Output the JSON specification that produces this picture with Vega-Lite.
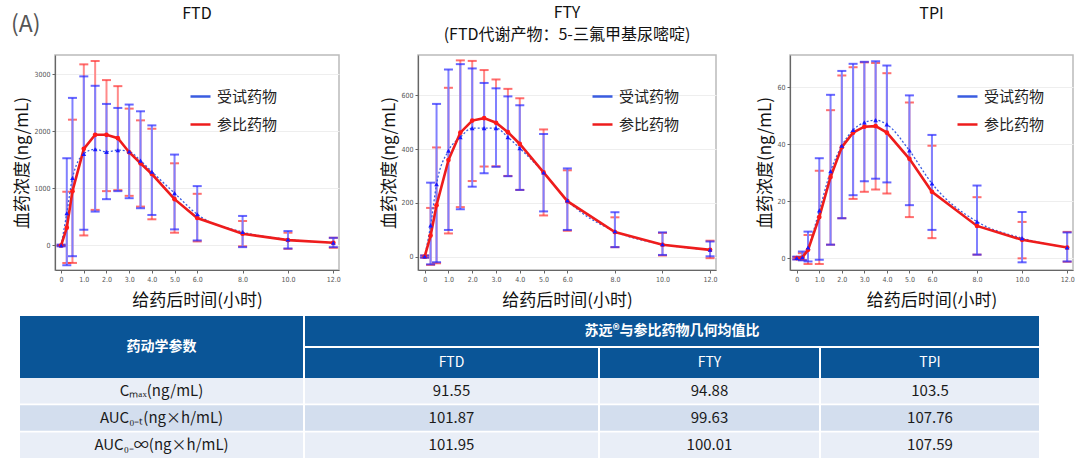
{
  "$schema": "https://vega.github.io/schema/vega-lite/v6.json",
  "padding": {"left": 11, "top": 4, "right": 0, "bottom": 0},
  "autosize": {"type": "pad"},
  "title": {"text": "(A)", "anchor": "start", "frame": "bounds", "fontSize": 23, "fontWeight": "normal", "color": "#555555", "font": "Noto Sans CJK SC", "offset": 0, "dy": 33, "dx": -1},
  "datasets": {
    "pk": [
      {"p": "FTD", "s": "参比药物", "t": 0, "m": 0, "lo": -10, "hi": 10},
      {"p": "FTD", "s": "参比药物", "t": 0.25, "m": 312, "lo": -306, "hi": 941},
      {"p": "FTD", "s": "参比药物", "t": 0.5, "m": 953, "lo": -306, "hi": 2206},
      {"p": "FTD", "s": "参比药物", "t": 1, "m": 1694, "lo": 176, "hi": 3176},
      {"p": "FTD", "s": "参比药物", "t": 1.5, "m": 1941, "lo": 624, "hi": 3235},
      {"p": "FTD", "s": "参比药物", "t": 2, "m": 1941, "lo": 953, "hi": 2900},
      {"p": "FTD", "s": "参比药物", "t": 2.5, "m": 1882, "lo": 970, "hi": 2794},
      {"p": "FTD", "s": "参比药物", "t": 3, "m": 1635, "lo": 870, "hi": 2400},
      {"p": "FTD", "s": "参比药物", "t": 3.5, "m": 1441, "lo": 682, "hi": 2194},
      {"p": "FTD", "s": "参比药物", "t": 4, "m": 1253, "lo": 459, "hi": 2047},
      {"p": "FTD", "s": "参比药物", "t": 5, "m": 812, "lo": 224, "hi": 1441},
      {"p": "FTD", "s": "参比药物", "t": 6, "m": 482, "lo": 71, "hi": 906},
      {"p": "FTD", "s": "参比药物", "t": 8, "m": 206, "lo": -15, "hi": 429},
      {"p": "FTD", "s": "参比药物", "t": 10, "m": 94, "lo": -59, "hi": 224},
      {"p": "FTD", "s": "参比药物", "t": 12, "m": 47, "lo": -41, "hi": 135},
      {"p": "FTD", "s": "受试药物", "t": 0, "m": 0, "lo": -15, "hi": 15},
      {"p": "FTD", "s": "受试药物", "t": 0.25, "m": 565, "lo": -347, "hi": 1529},
      {"p": "FTD", "s": "受试药物", "t": 0.5, "m": 1182, "lo": -188, "hi": 2588},
      {"p": "FTD", "s": "受试药物", "t": 1, "m": 1606, "lo": 276, "hi": 2965},
      {"p": "FTD", "s": "受试药物", "t": 1.5, "m": 1688, "lo": 594, "hi": 2800},
      {"p": "FTD", "s": "受试药物", "t": 2, "m": 1641, "lo": 812, "hi": 2482},
      {"p": "FTD", "s": "受试药物", "t": 2.5, "m": 1671, "lo": 953, "hi": 2412},
      {"p": "FTD", "s": "受试药物", "t": 3, "m": 1647, "lo": 829, "hi": 2471},
      {"p": "FTD", "s": "受试药物", "t": 3.5, "m": 1488, "lo": 653, "hi": 2353},
      {"p": "FTD", "s": "受试药物", "t": 4, "m": 1294, "lo": 535, "hi": 2106},
      {"p": "FTD", "s": "受试药物", "t": 5, "m": 918, "lo": 282, "hi": 1594},
      {"p": "FTD", "s": "受试药物", "t": 6, "m": 547, "lo": 88, "hi": 1041},
      {"p": "FTD", "s": "受试药物", "t": 8, "m": 235, "lo": -29, "hi": 518},
      {"p": "FTD", "s": "受试药物", "t": 10, "m": 106, "lo": -53, "hi": 253},
      {"p": "FTD", "s": "受试药物", "t": 12, "m": 47, "lo": -29, "hi": 135},
      {"p": "FTY", "s": "参比药物", "t": 0, "m": 0, "lo": -4, "hi": 4},
      {"p": "FTY", "s": "参比药物", "t": 0.25, "m": 78, "lo": -31, "hi": 181},
      {"p": "FTY", "s": "参比药物", "t": 0.5, "m": 191, "lo": -25, "hi": 406},
      {"p": "FTY", "s": "参比药物", "t": 1, "m": 359, "lo": 86, "hi": 628},
      {"p": "FTY", "s": "参比药物", "t": 1.5, "m": 461, "lo": 184, "hi": 730},
      {"p": "FTY", "s": "参比药物", "t": 2, "m": 506, "lo": 281, "hi": 728},
      {"p": "FTY", "s": "参比药物", "t": 2.5, "m": 515, "lo": 335, "hi": 694},
      {"p": "FTY", "s": "参比药物", "t": 3, "m": 498, "lo": 336, "hi": 659},
      {"p": "FTY", "s": "参比药物", "t": 3.5, "m": 463, "lo": 300, "hi": 624},
      {"p": "FTY", "s": "参比药物", "t": 4, "m": 419, "lo": 248, "hi": 589},
      {"p": "FTY", "s": "参比药物", "t": 5, "m": 313, "lo": 153, "hi": 473},
      {"p": "FTY", "s": "参比药物", "t": 6, "m": 206, "lo": 96, "hi": 321},
      {"p": "FTY", "s": "参比药物", "t": 8, "m": 91, "lo": 35, "hi": 146},
      {"p": "FTY", "s": "参比药物", "t": 10, "m": 44, "lo": 4, "hi": 88},
      {"p": "FTY", "s": "参比药物", "t": 12, "m": 25, "lo": -6, "hi": 59},
      {"p": "FTY", "s": "受试药物", "t": 0, "m": 0, "lo": -4, "hi": 4},
      {"p": "FTY", "s": "受试药物", "t": 0.25, "m": 116, "lo": -29, "hi": 275},
      {"p": "FTY", "s": "受试药物", "t": 0.5, "m": 269, "lo": -21, "hi": 568},
      {"p": "FTY", "s": "受试药物", "t": 1, "m": 394, "lo": 99, "hi": 696},
      {"p": "FTY", "s": "受试药物", "t": 1.5, "m": 444, "lo": 176, "hi": 716},
      {"p": "FTY", "s": "受试药物", "t": 2, "m": 478, "lo": 260, "hi": 700},
      {"p": "FTY", "s": "受试药物", "t": 2.5, "m": 478, "lo": 310, "hi": 646},
      {"p": "FTY", "s": "受试药物", "t": 3, "m": 478, "lo": 334, "hi": 626},
      {"p": "FTY", "s": "受试药物", "t": 3.5, "m": 444, "lo": 299, "hi": 596},
      {"p": "FTY", "s": "受试药物", "t": 4, "m": 403, "lo": 248, "hi": 563},
      {"p": "FTY", "s": "受试药物", "t": 5, "m": 313, "lo": 168, "hi": 456},
      {"p": "FTY", "s": "受试药物", "t": 6, "m": 209, "lo": 99, "hi": 328},
      {"p": "FTY", "s": "受试药物", "t": 8, "m": 94, "lo": 35, "hi": 165},
      {"p": "FTY", "s": "受试药物", "t": 10, "m": 46, "lo": 6, "hi": 90},
      {"p": "FTY", "s": "受试药物", "t": 12, "m": 25, "lo": 1, "hi": 56},
      {"p": "TPI", "s": "参比药物", "t": 0, "m": 0, "lo": -0.4, "hi": 0.4},
      {"p": "TPI", "s": "参比药物", "t": 0.25, "m": 0.2, "lo": -0.7, "hi": 1.7},
      {"p": "TPI", "s": "参比药物", "t": 0.5, "m": 2.9, "lo": -2.1, "hi": 8.1},
      {"p": "TPI", "s": "参比药物", "t": 1, "m": 14.4, "lo": -2.1, "hi": 30.7},
      {"p": "TPI", "s": "参比药物", "t": 1.5, "m": 28.5, "lo": 4.7, "hi": 52},
      {"p": "TPI", "s": "参比药物", "t": 2, "m": 39, "lo": 14, "hi": 64.2},
      {"p": "TPI", "s": "参比药物", "t": 2.5, "m": 44.1, "lo": 20.8, "hi": 67.1},
      {"p": "TPI", "s": "参比药物", "t": 3, "m": 46.2, "lo": 23.3, "hi": 68.8},
      {"p": "TPI", "s": "参比药物", "t": 3.5, "m": 46.4, "lo": 24.1, "hi": 68.6},
      {"p": "TPI", "s": "参比药物", "t": 4, "m": 44.1, "lo": 22.7, "hi": 65},
      {"p": "TPI", "s": "参比药物", "t": 5, "m": 34.9, "lo": 14.4, "hi": 54.7},
      {"p": "TPI", "s": "参比药物", "t": 6, "m": 23.3, "lo": 7, "hi": 39.5},
      {"p": "TPI", "s": "参比药物", "t": 8, "m": 11.3, "lo": 1.2, "hi": 21.4},
      {"p": "TPI", "s": "参比药物", "t": 10, "m": 6.4, "lo": -0.1, "hi": 12.7},
      {"p": "TPI", "s": "参比药物", "t": 12, "m": 3.7, "lo": -1.3, "hi": 9.2},
      {"p": "TPI", "s": "受试药物", "t": 0, "m": 0, "lo": -0.5, "hi": 0.5},
      {"p": "TPI", "s": "受试药物", "t": 0.25, "m": 0.3, "lo": -0.8, "hi": 2.3},
      {"p": "TPI", "s": "受试药物", "t": 0.5, "m": 3.7, "lo": -1.2, "hi": 9.3},
      {"p": "TPI", "s": "受试药物", "t": 1, "m": 16.7, "lo": -0.6, "hi": 35.1},
      {"p": "TPI", "s": "受试药物", "t": 1.5, "m": 30.5, "lo": 4.7, "hi": 57.4},
      {"p": "TPI", "s": "受试药物", "t": 2, "m": 39.5, "lo": 14, "hi": 65.8},
      {"p": "TPI", "s": "受试药物", "t": 2.5, "m": 45, "lo": 22.1, "hi": 68.3},
      {"p": "TPI", "s": "受试药物", "t": 3, "m": 47.7, "lo": 27, "hi": 69},
      {"p": "TPI", "s": "受试药物", "t": 3.5, "m": 48.5, "lo": 27.9, "hi": 69.2},
      {"p": "TPI", "s": "受试药物", "t": 4, "m": 47, "lo": 26.6, "hi": 67.7},
      {"p": "TPI", "s": "受试药物", "t": 5, "m": 37.8, "lo": 18.6, "hi": 57.2},
      {"p": "TPI", "s": "受试药物", "t": 6, "m": 26.2, "lo": 9.9, "hi": 43.3},
      {"p": "TPI", "s": "受试药物", "t": 8, "m": 12.8, "lo": 1.2, "hi": 25.5},
      {"p": "TPI", "s": "受试药物", "t": 10, "m": 7, "lo": -1.5, "hi": 16.2},
      {"p": "TPI", "s": "受试药物", "t": 12, "m": 3.7, "lo": -1.2, "hi": 9}
    ],
    "tbl": [
      {"row": "Cmax", "param": "Cₘₐₓ(ng/mL)", "FTD": 91.55, "FTY": 94.88, "TPI": 103.5},
      {"row": "AUCt", "param": "AUC₀₋ₜ(ng×h/mL)", "FTD": 101.87, "FTY": 99.63, "TPI": 107.76},
      {"row": "AUCinf", "param": "AUC₀₋∞(ng×h/mL)", "FTD": 101.95, "FTY": 100.01, "TPI": 107.59}
    ]
  },
  "columns": 1,
  "spacing": 7,
  "concat": [
    {
      "spacing": 0,
      "hconcat": [
        {"width": 1, "height": 215, "data": {"values": []}, "mark": "rect"},
        {
          "spacing": 38,
          "resolve": {"scale": {"color": "independent"}, "legend": {"color": "independent"}},
          "hconcat": [
            {
              "width": 284, "height": 215,
              "view": {"stroke": "#bbbbbb", "strokeWidth": 1.5},
              "title": {"text": "FTD", "offset": 33},
              "data": {"name": "pk"},
              "transform": [{"filter": "datum.p === 'FTD'"}],
              "encoding": {
                "x": {"field": "t", "type": "quantitative", "scale": {"domain": [-0.27, 12.25], "nice": false, "zero": false}, "axis": {"values": [0, 1, 2, 3, 4, 5, 6, 8, 10, 12], "labelExpr": "datum.value === 0 ? '0' : format(datum.value, '.1f')", "labelOverlap": false, "labelSeparation": 0, "labelFlush": false, "title": "给药后时间(小时)"}}
              },
              "layer": [
                {"transform": [{"filter": "datum.s === '参比药物'"}],
                 "mark": {"type": "rule", "color": "#ff8a8a", "strokeWidth": 2},
                 "encoding": {
                   "y": {"field": "lo", "type": "quantitative", "scale": {"domain": [-430, 3340], "nice": false, "zero": false}, "axis": {"values": [0, 1000, 2000, 3000], "format": "d", "title": "血药浓度(ng/mL)"}},
                   "y2": {"field": "hi"}
                 }},
                {"transform": [{"filter": "datum.s === '参比药物'"}, {"fold": ["lo", "hi"], "as": ["k", "v"]}],
                 "mark": {"type": "tick", "orient": "horizontal", "size": 9, "thickness": 2, "color": "#ff3030"},
                 "encoding": {"y": {"field": "v", "type": "quantitative"}}},
                {"transform": [{"filter": "datum.s === '受试药物'"}],
                 "mark": {"type": "rule", "color": "#8080ff", "strokeWidth": 2},
                 "encoding": {"y": {"field": "lo", "type": "quantitative"}, "y2": {"field": "hi"}}},
                {"transform": [{"filter": "datum.s === '受试药物'"}, {"fold": ["lo", "hi"], "as": ["k", "v"]}],
                 "mark": {"type": "tick", "orient": "horizontal", "size": 9, "thickness": 2, "color": "#2626ff"},
                 "encoding": {"y": {"field": "v", "type": "quantitative"}}},
                {"transform": [{"filter": "datum.s === '受试药物'"}],
                 "mark": {"type": "line", "interpolate": "monotone", "strokeDash": [2, 2], "strokeWidth": 1.3},
                 "encoding": {"y": {"field": "m", "type": "quantitative"},
                   "color": {"field": "s", "type": "nominal", "scale": {"domain": ["受试药物", "参比药物"], "range": ["#3a5ce0", "#ee1c1c"]}, "legend": {"orient": "none", "legendX": 134, "legendY": 30, "title": null}}}},
                {"transform": [{"filter": "datum.s === '参比药物'"}],
                 "mark": {"type": "line", "strokeWidth": 2.6},
                 "encoding": {"y": {"field": "m", "type": "quantitative"},
                   "color": {"field": "s", "type": "nominal", "scale": {"domain": ["受试药物", "参比药物"], "range": ["#3a5ce0", "#ee1c1c"]}, "legend": {"orient": "none", "legendX": 134, "legendY": 30, "title": null}}}},
                {"transform": [{"filter": "datum.s === '参比药物'"}],
                 "mark": {"type": "point", "shape": "circle", "filled": true, "size": 22, "opacity": 1, "color": "#ff1a1a"},
                 "encoding": {"y": {"field": "m", "type": "quantitative"}}},
                {"transform": [{"filter": "datum.s === '受试药物'"}],
                 "mark": {"type": "point", "shape": "triangle-up", "filled": true, "size": 22, "opacity": 1, "color": "#1a1aff"},
                 "encoding": {"y": {"field": "m", "type": "quantitative"}}}
              ]
            },
            {
              "width": 298, "height": 215,
              "view": {"stroke": "#bbbbbb", "strokeWidth": 1.5},
              "title": {"text": ["FTY", "(FTD代谢产物：5-三氟甲基尿嘧啶)"], "offset": 12, "lineHeight": 22},
              "data": {"name": "pk"},
              "transform": [{"filter": "datum.p === 'FTY'"}],
              "encoding": {
                "x": {"field": "t", "type": "quantitative", "scale": {"domain": [-0.28, 12.25], "nice": false, "zero": false}, "axis": {"values": [0, 1, 2, 3, 4, 5, 6, 8, 10, 12], "labelExpr": "datum.value === 0 ? '0' : format(datum.value, '.1f')", "labelOverlap": false, "labelSeparation": 0, "labelFlush": false, "title": "给药后时间(小时)"}}
              },
              "layer": [
                {"transform": [{"filter": "datum.s === '参比药物'"}],
                 "mark": {"type": "rule", "color": "#ff8a8a", "strokeWidth": 2},
                 "encoding": {
                   "y": {"field": "lo", "type": "quantitative", "scale": {"domain": [-50, 750], "nice": false, "zero": false}, "axis": {"values": [0, 200, 400, 600], "format": "d", "title": "血药浓度(ng/mL)"}},
                   "y2": {"field": "hi"}
                 }},
                {"transform": [{"filter": "datum.s === '参比药物'"}, {"fold": ["lo", "hi"], "as": ["k", "v"]}],
                 "mark": {"type": "tick", "orient": "horizontal", "size": 9, "thickness": 2, "color": "#ff3030"},
                 "encoding": {"y": {"field": "v", "type": "quantitative"}}},
                {"transform": [{"filter": "datum.s === '受试药物'"}],
                 "mark": {"type": "rule", "color": "#8080ff", "strokeWidth": 2},
                 "encoding": {"y": {"field": "lo", "type": "quantitative"}, "y2": {"field": "hi"}}},
                {"transform": [{"filter": "datum.s === '受试药物'"}, {"fold": ["lo", "hi"], "as": ["k", "v"]}],
                 "mark": {"type": "tick", "orient": "horizontal", "size": 9, "thickness": 2, "color": "#2626ff"},
                 "encoding": {"y": {"field": "v", "type": "quantitative"}}},
                {"transform": [{"filter": "datum.s === '受试药物'"}],
                 "mark": {"type": "line", "interpolate": "monotone", "strokeDash": [2, 2], "strokeWidth": 1.3},
                 "encoding": {"y": {"field": "m", "type": "quantitative"},
                   "color": {"field": "s", "type": "nominal", "scale": {"domain": ["受试药物", "参比药物"], "range": ["#3a5ce0", "#ee1c1c"]}, "legend": {"orient": "none", "legendX": 173, "legendY": 30, "title": null}}}},
                {"transform": [{"filter": "datum.s === '参比药物'"}],
                 "mark": {"type": "line", "strokeWidth": 2.6},
                 "encoding": {"y": {"field": "m", "type": "quantitative"},
                   "color": {"field": "s", "type": "nominal", "scale": {"domain": ["受试药物", "参比药物"], "range": ["#3a5ce0", "#ee1c1c"]}, "legend": {"orient": "none", "legendX": 173, "legendY": 30, "title": null}}}},
                {"transform": [{"filter": "datum.s === '参比药物'"}],
                 "mark": {"type": "point", "shape": "circle", "filled": true, "size": 22, "opacity": 1, "color": "#ff1a1a"},
                 "encoding": {"y": {"field": "m", "type": "quantitative"}}},
                {"transform": [{"filter": "datum.s === '受试药物'"}],
                 "mark": {"type": "point", "shape": "triangle-up", "filled": true, "size": 22, "opacity": 1, "color": "#1a1aff"},
                 "encoding": {"y": {"field": "m", "type": "quantitative"}}}
              ]
            },
            {
              "width": 283, "height": 215,
              "view": {"stroke": "#bbbbbb", "strokeWidth": 1.5},
              "title": {"text": "TPI", "offset": 33},
              "data": {"name": "pk"},
              "transform": [{"filter": "datum.p === 'TPI'"}],
              "encoding": {
                "x": {"field": "t", "type": "quantitative", "scale": {"domain": [-0.3, 12.26], "nice": false, "zero": false}, "axis": {"values": [0, 1, 2, 3, 4, 5, 6, 8, 10, 12], "labelExpr": "datum.value === 0 ? '0' : format(datum.value, '.1f')", "labelOverlap": false, "labelSeparation": 0, "labelFlush": false, "title": "给药后时间(小时)"}}
              },
              "layer": [
                {"transform": [{"filter": "datum.s === '参比药物'"}],
                 "mark": {"type": "rule", "color": "#ff8a8a", "strokeWidth": 2},
                 "encoding": {
                   "y": {"field": "lo", "type": "quantitative", "scale": {"domain": [-4.2, 71.4], "nice": false, "zero": false}, "axis": {"values": [0, 20, 40, 60], "format": "d", "title": "血药浓度(ng/mL)"}},
                   "y2": {"field": "hi"}
                 }},
                {"transform": [{"filter": "datum.s === '参比药物'"}, {"fold": ["lo", "hi"], "as": ["k", "v"]}],
                 "mark": {"type": "tick", "orient": "horizontal", "size": 9, "thickness": 2, "color": "#ff3030"},
                 "encoding": {"y": {"field": "v", "type": "quantitative"}}},
                {"transform": [{"filter": "datum.s === '受试药物'"}],
                 "mark": {"type": "rule", "color": "#8080ff", "strokeWidth": 2},
                 "encoding": {"y": {"field": "lo", "type": "quantitative"}, "y2": {"field": "hi"}}},
                {"transform": [{"filter": "datum.s === '受试药物'"}, {"fold": ["lo", "hi"], "as": ["k", "v"]}],
                 "mark": {"type": "tick", "orient": "horizontal", "size": 9, "thickness": 2, "color": "#2626ff"},
                 "encoding": {"y": {"field": "v", "type": "quantitative"}}},
                {"transform": [{"filter": "datum.s === '受试药物'"}],
                 "mark": {"type": "line", "interpolate": "monotone", "strokeDash": [2, 2], "strokeWidth": 1.3},
                 "encoding": {"y": {"field": "m", "type": "quantitative"},
                   "color": {"field": "s", "type": "nominal", "scale": {"domain": ["受试药物", "参比药物"], "range": ["#3a5ce0", "#ee1c1c"]}, "legend": {"orient": "none", "legendX": 166, "legendY": 30, "title": null}}}},
                {"transform": [{"filter": "datum.s === '参比药物'"}],
                 "mark": {"type": "line", "strokeWidth": 2.6},
                 "encoding": {"y": {"field": "m", "type": "quantitative"},
                   "color": {"field": "s", "type": "nominal", "scale": {"domain": ["受试药物", "参比药物"], "range": ["#3a5ce0", "#ee1c1c"]}, "legend": {"orient": "none", "legendX": 166, "legendY": 30, "title": null}}}},
                {"transform": [{"filter": "datum.s === '参比药物'"}],
                 "mark": {"type": "point", "shape": "circle", "filled": true, "size": 22, "opacity": 1, "color": "#ff1a1a"},
                 "encoding": {"y": {"field": "m", "type": "quantitative"}}},
                {"transform": [{"filter": "datum.s === '受试药物'"}],
                 "mark": {"type": "point", "shape": "triangle-up", "filled": true, "size": 22, "opacity": 1, "color": "#1a1aff"},
                 "encoding": {"y": {"field": "m", "type": "quantitative"}}}
              ]
            }
          ]
        }
      ]
    },
    {
      "spacing": 2,
      "hconcat": [
        {"width": 6, "height": 142, "data": {"values": []}, "mark": "rect"},
        {
          "spacing": 0,
          "vconcat": [
            {"width": 283, "height": 62, "view": {"fill": "#0A5597", "stroke": null},
             "data": {"values": [{"h": "药动学参数"}]},
             "mark": {"type": "text", "color": "white", "fontSize": 14, "fontWeight": "bold"},
             "encoding": {"text": {"field": "h", "type": "nominal"}}},
            {"width": 283, "height": 80, "data": {"name": "tbl"},
             "layer": [
               {"mark": {"type": "rect"},
                "encoding": {"y": {"field": "row", "type": "nominal", "sort": ["Cmax", "AUCt", "AUCinf"], "axis": null, "scale": {"paddingInner": 0.06, "paddingOuter": 0}},
                  "color": {"field": "row", "type": "nominal", "scale": {"domain": ["Cmax", "AUCt", "AUCinf"], "range": ["#E9EEF7", "#D3DEEE", "#E9EEF7"]}, "legend": null}}},
               {"mark": {"type": "text", "fontSize": 15, "color": "#1a1a1a"},
                "encoding": {"y": {"field": "row", "type": "nominal", "sort": ["Cmax", "AUCt", "AUCinf"], "axis": null}, "text": {"field": "param", "type": "nominal"}}}
             ]}
          ]
        },
        {
          "spacing": 2,
          "vconcat": [
            {"width": 734, "height": 30, "view": {"fill": "#0A5597", "stroke": null},
             "data": {"values": [{"h": "苏远®与参比药物几何均值比"}]},
             "mark": {"type": "text", "color": "white", "fontSize": 14, "fontWeight": "bold"},
             "encoding": {"text": {"field": "h", "type": "nominal"}}},
            {
              "spacing": 2,
              "hconcat": [
                {"spacing": 0, "vconcat": [
                  {"width": 293, "height": 30, "view": {"fill": "#0A5597", "stroke": null},
                   "data": {"values": [{"h": "FTD"}]},
                   "mark": {"type": "text", "color": "white", "fontSize": 14},
                   "encoding": {"text": {"field": "h", "type": "nominal"}}},
                  {"width": 293, "height": 80, "data": {"name": "tbl"},
                   "layer": [
                     {"mark": {"type": "rect"},
                      "encoding": {"y": {"field": "row", "type": "nominal", "sort": ["Cmax", "AUCt", "AUCinf"], "axis": null, "scale": {"paddingInner": 0.06, "paddingOuter": 0}},
                        "color": {"field": "row", "type": "nominal", "scale": {"domain": ["Cmax", "AUCt", "AUCinf"], "range": ["#E9EEF7", "#D3DEEE", "#E9EEF7"]}, "legend": null}}},
                     {"mark": {"type": "text", "fontSize": 15, "color": "#1a1a1a"},
                      "encoding": {"y": {"field": "row", "type": "nominal", "sort": ["Cmax", "AUCt", "AUCinf"], "axis": null}, "text": {"field": "FTD", "type": "nominal"}}}
                   ]}
                ]},
                {"spacing": 0, "vconcat": [
                  {"width": 219, "height": 30, "view": {"fill": "#0A5597", "stroke": null},
                   "data": {"values": [{"h": "FTY"}]},
                   "mark": {"type": "text", "color": "white", "fontSize": 14},
                   "encoding": {"text": {"field": "h", "type": "nominal"}}},
                  {"width": 219, "height": 80, "data": {"name": "tbl"},
                   "layer": [
                     {"mark": {"type": "rect"},
                      "encoding": {"y": {"field": "row", "type": "nominal", "sort": ["Cmax", "AUCt", "AUCinf"], "axis": null, "scale": {"paddingInner": 0.06, "paddingOuter": 0}},
                        "color": {"field": "row", "type": "nominal", "scale": {"domain": ["Cmax", "AUCt", "AUCinf"], "range": ["#E9EEF7", "#D3DEEE", "#E9EEF7"]}, "legend": null}}},
                     {"mark": {"type": "text", "fontSize": 15, "color": "#1a1a1a"},
                      "encoding": {"y": {"field": "row", "type": "nominal", "sort": ["Cmax", "AUCt", "AUCinf"], "axis": null}, "text": {"field": "FTY", "type": "nominal"}}}
                   ]}
                ]},
                {"spacing": 0, "vconcat": [
                  {"width": 218, "height": 30, "view": {"fill": "#0A5597", "stroke": null},
                   "data": {"values": [{"h": "TPI"}]},
                   "mark": {"type": "text", "color": "white", "fontSize": 14},
                   "encoding": {"text": {"field": "h", "type": "nominal"}}},
                  {"width": 218, "height": 80, "data": {"name": "tbl"},
                   "layer": [
                     {"mark": {"type": "rect"},
                      "encoding": {"y": {"field": "row", "type": "nominal", "sort": ["Cmax", "AUCt", "AUCinf"], "axis": null, "scale": {"paddingInner": 0.06, "paddingOuter": 0}},
                        "color": {"field": "row", "type": "nominal", "scale": {"domain": ["Cmax", "AUCt", "AUCinf"], "range": ["#E9EEF7", "#D3DEEE", "#E9EEF7"]}, "legend": null}}},
                     {"mark": {"type": "text", "fontSize": 15, "color": "#1a1a1a"},
                      "encoding": {"y": {"field": "row", "type": "nominal", "sort": ["Cmax", "AUCt", "AUCinf"], "axis": null}, "text": {"field": "TPI", "type": "nominal"}}}
                   ]}
                ]}
              ]
            }
          ]
        }
      ]
    }
  ],
  "config": {
    "font": "Noto Sans CJK SC",
    "view": {"stroke": null},
    "title": {"fontSize": 16, "fontWeight": "normal", "color": "#111111", "font": "Noto Sans CJK SC", "anchor": "middle"},
    "axis": {"labelFont": "Liberation Sans Narrow, DejaVu Sans Condensed, sans-serif", "labelFontSize": 7, "labelColor": "#555555", "tickColor": "#666666", "tickSize": 3, "domainColor": "#666666", "domainWidth": 1.2, "labelPadding": 2, "labelOverlap": false, "titleFont": "Noto Sans CJK SC", "titleFontSize": 17, "titleFontWeight": "normal", "titleColor": "#111111", "gridColor": "#eeeeee"},
    "axisX": {"grid": false, "titlePadding": 10},
    "axisY": {"grid": true, "titlePadding": 2},
    "legend": {"symbolType": "stroke", "symbolSize": 400, "symbolStrokeWidth": 2.5, "labelFont": "Noto Sans CJK SC", "labelFontSize": 15, "labelColor": "#222222", "rowPadding": 8, "labelOffset": 5}
  }
}
